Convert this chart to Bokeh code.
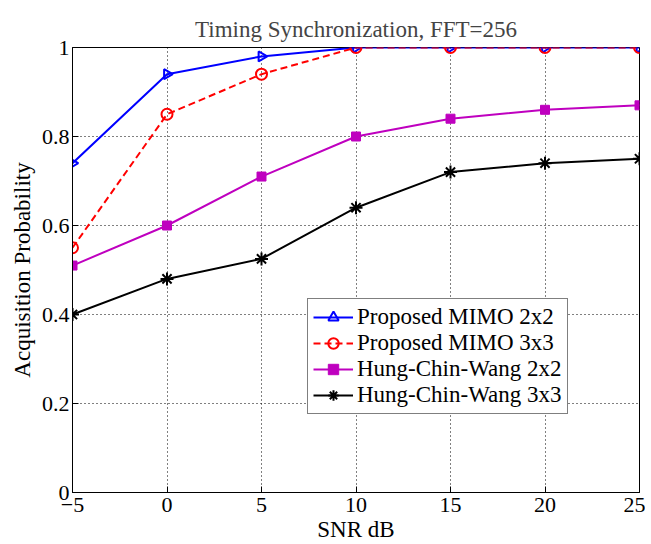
import numpy as np
from bokeh.plotting import figure
from bokeh.models import Range1d, FixedTicker, CustomJSTickFormatter, Legend, LegendItem
from bokeh.embed import file_html
from bokeh.resources import INLINE

snr = [-5, 0, 5, 10, 15, 20, 25]
proposed_2x2 = [0.74, 0.94, 0.98, 1.0, 1.0, 1.0, 1.0]
proposed_3x3 = [0.55, 0.85, 0.94, 1.0, 1.0, 1.0, 1.0]
hcw_2x2 = [0.51, 0.60, 0.71, 0.80, 0.84, 0.86, 0.87]
hcw_3x3 = [0.40, 0.48, 0.525, 0.64, 0.72, 0.74, 0.75]
x_ticks = [-5, 0, 5, 10, 15, 20, 25]
y_ticks = [0, 0.2, 0.4, 0.6, 0.8, 1.0]

FONT = "Liberation Serif"
FS = "22px"
FS_BIG = "23px"

p = figure(width=645, height=544, output_backend="svg", toolbar_location=None,
           x_range=Range1d(-5, 25), y_range=Range1d(0, 1),
           min_border_left=72, min_border_right=6, min_border_top=47, min_border_bottom=48)

p.title.text = "Timing Synchronization, FFT=256"
p.title.text_font = FONT
p.title.text_font_size = FS_BIG
p.title.text_font_style = "normal"
p.title.align = "center"
p.title.vertical_align = "top"
p.title.standoff = 8

p.outline_line_color = "black"
p.outline_line_alpha = 1
p.background_fill_color = "white"

for ax in (p.xaxis[0], p.yaxis[0]):
    ax.major_tick_in = 6
    ax.major_tick_out = 0
    ax.minor_tick_line_color = None
    ax.axis_line_color = "black"
    ax.major_tick_line_color = "black"
    ax.major_label_text_font = FONT
    ax.major_label_text_font_size = FS
    ax.major_label_text_color = "black"
    ax.axis_label_text_font = FONT
    ax.axis_label_text_font_size = FS_BIG
    ax.axis_label_text_font_style = "normal"
    ax.axis_label_text_color = "black"

p.xaxis.ticker = FixedTicker(ticks=x_ticks)
p.yaxis.ticker = FixedTicker(ticks=y_ticks)
p.yaxis.formatter = CustomJSTickFormatter(code="return String(Math.round(tick*10)/10);")
p.xaxis.major_label_standoff = 5
p.yaxis.major_label_standoff = 3

p.xaxis.axis_label = "SNR dB"
p.xaxis.axis_label_standoff = 2
p.yaxis.axis_label = "Acquisition Probability"
p.yaxis.axis_label_standoff = 4

p.xgrid.ticker = FixedTicker(ticks=x_ticks)
p.ygrid.ticker = FixedTicker(ticks=y_ticks)
for g in (p.xgrid[0], p.ygrid[0]):
    g.grid_line_color = "black"
    g.grid_line_dash = "1 3"
    g.grid_line_width = 1

# Series
r1l = p.line(snr, proposed_2x2, line_color="#0000ff", line_width=2)
r1m = p.scatter(snr, proposed_2x2, marker="triangle", angle=-90, angle_units="deg", size=10,
                line_color="#0000ff", line_width=2, fill_alpha=0)
r2l = p.line(snr, proposed_3x3, line_color="#ff0000", line_width=2, line_dash="7 4")
r2m = p.scatter(snr, proposed_3x3, marker="circle", size=11,
                line_color="#ff0000", line_width=2, fill_alpha=0)
r3l = p.line(snr, hcw_2x2, line_color="#bf00bf", line_width=2)
r3m = p.scatter(snr, hcw_2x2, marker="square", size=9,
                line_color="#bf00bf", fill_color="#bf00bf")
r4l = p.line(snr, hcw_3x3, line_color="black", line_width=2)
r4m = p.scatter(snr, hcw_3x3, marker="asterisk", size=13,
                line_color="black", line_width=2)

legend = Legend(items=[
    LegendItem(label="Proposed MIMO 2x2", renderers=[r1l, r1m]),
    LegendItem(label="Proposed MIMO 3x3", renderers=[r2l, r2m]),
    LegendItem(label="Hung-Chin-Wang 2x2", renderers=[r3l, r3m]),
    LegendItem(label="Hung-Chin-Wang 3x3", renderers=[r4l, r4m]),
], location=(235, 78))
legend.label_text_font = FONT
legend.label_text_font_size = FS_BIG
legend.label_text_color = "black"
legend.border_line_color = "black"
legend.border_line_width = 1
legend.background_fill_color = "white"
legend.background_fill_alpha = 1
legend.padding = 5
legend.spacing = 0
legend.margin = 0
legend.glyph_width = 40
legend.glyph_height = 26
legend.label_height = 26
legend.label_standoff = 4
legend.label_width = 205
p.add_layout(legend, "center")

open("out.html", "w").write(file_html(p, INLINE))
